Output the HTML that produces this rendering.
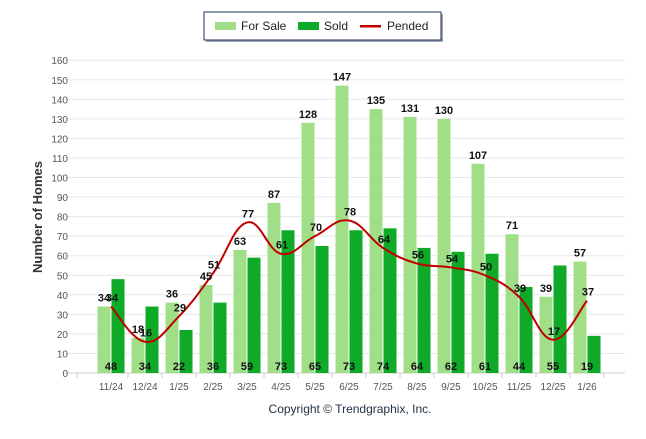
<!DOCTYPE html>
<html><head><meta charset="utf-8"><style>
body{margin:0;background:#fff;}
svg{font-family:"Liberation Sans",Arial,sans-serif;}
</style></head><body>
<svg id="c" width="646" height="434">
<g>
<rect x="206" y="14" width="237" height="28" fill="#3a4a6a" opacity="0.5"/>
<rect x="204" y="12" width="237" height="28" fill="#fff" stroke="#1f2f57" stroke-width="1"/>
<rect x="215" y="22" width="21" height="8" fill="#a0df88"/>
<text x="241" y="30" font-size="12" fill="#222">For Sale</text>
<rect x="298" y="22" width="21" height="8" fill="#0eaa28"/>
<text x="324" y="30" font-size="12" fill="#222">Sold</text>
<rect x="360" y="25" width="21" height="2.5" fill="#c00000"/>
<text x="387" y="30" font-size="12" fill="#222">Pended</text>
</g>
<text transform="translate(42,217) rotate(-90)" text-anchor="middle" font-size="13" font-weight="bold" fill="#333">Number of Homes</text>
<text x="350" y="413" text-anchor="middle" font-size="12" fill="#234">Copyright © Trendgraphix, Inc.</text>
<g id="grid"></g><g id="bars"></g><g id="line"></g><g id="labels"></g>
</svg>
<script>
const categories=["11/24","12/24","1/25","2/25","3/25","4/25","5/25","6/25","7/25","8/25","9/25","10/25","11/25","12/25","1/26"];
const forSale=[34,18,36,45,63,87,128,147,135,131,130,107,71,39,57];
const sold=[48,34,22,36,59,73,65,73,74,64,62,61,44,55,19];
const pended=[34,16,29,51,77,61,70,78,64,56,54,50,39,17,37];
const yTicks=[0,10,20,30,40,50,60,70,80,90,100,110,120,130,140,150,160];
const NS="http://www.w3.org/2000/svg";
const y0=373,pxPer=1.955;
function yS(v){return y0-v*pxPer;}
function xS(i){return 111+34*i;}
function mk(tag,attrs,parent,text){const e=document.createElementNS(NS,tag);for(const k in attrs)e.setAttribute(k,attrs[k]);if(text!==undefined)e.textContent=text;document.getElementById(parent).appendChild(e);return e;}
yTicks.forEach(t=>{
 const g=mk('line',{x1:65,x2:625,y1:yS(t),y2:yS(t),stroke:t===0?'#ccc':'#e8e8e8','stroke-width':1},'grid');
 
 
 const l=mk('text',{x:68,y:yS(t)+4,'text-anchor':'end','font-size':10,fill:'#555'},'grid',String(t));
 
 
});
mk('line',{x1:77,x2:77,y1:373,y2:378,stroke:'#ccc'},'grid');
categories.forEach((c,i)=>{
 const t=mk('text',{x:xS(i),y:390,'text-anchor':'middle','font-size':10,fill:'#555'},'grid',c);
 
 
 mk('line',{x1:xS(i)+17,x2:xS(i)+17,y1:373,y2:378,stroke:'#ccc'},'grid');
 const b1=mk('rect',{x:xS(i)-13.5,y:yS(forSale[i]),width:13,height:forSale[i]*pxPer,fill:'#a0df88'},'bars');
 
 
 const b2=mk('rect',{x:xS(i)+0.5,y:yS(sold[i]),width:13,height:sold[i]*pxPer,fill:'#0eaa28'},'bars');
 
 
 const l1=mk('text',{x:xS(i)-7,y:yS(forSale[i])-5,'text-anchor':'middle','font-size':11,'font-weight':'bold',fill:'#111'},'labels',String(forSale[i]));
 
 
 const l2=mk('text',{x:xS(i),y:370,'text-anchor':'middle','font-size':11,'font-weight':'bold',fill:'#111'},'labels',String(sold[i]));
 
 
 const l3=mk('text',{x:xS(i)+1,y:yS(pended[i])-5,'text-anchor':'middle','font-size':11,'font-weight':'bold',fill:'#111'},'labels',String(pended[i]));
 
 
});
const pts=pended.map((v,i)=>[xS(i),yS(v)]);
let d='M'+pts[0][0]+','+pts[0][1];
for(let i=0;i<pts.length-1;i++){
 const p0=pts[i-1]||pts[i],p1=pts[i],p2=pts[i+1],p3=pts[i+2]||p2;
 const k=0.2;
 d+=` C${p1[0]+(p2[0]-p0[0])*k},${p1[1]+(p2[1]-p0[1])*k} ${p2[0]-(p3[0]-p1[0])*k},${p2[1]-(p3[1]-p1[1])*k} ${p2[0]},${p2[1]}`;
}
const ln=mk('path',{d:d,fill:'none',stroke:'#c00000','stroke-width':2},'line');


</script>
</body></html>
